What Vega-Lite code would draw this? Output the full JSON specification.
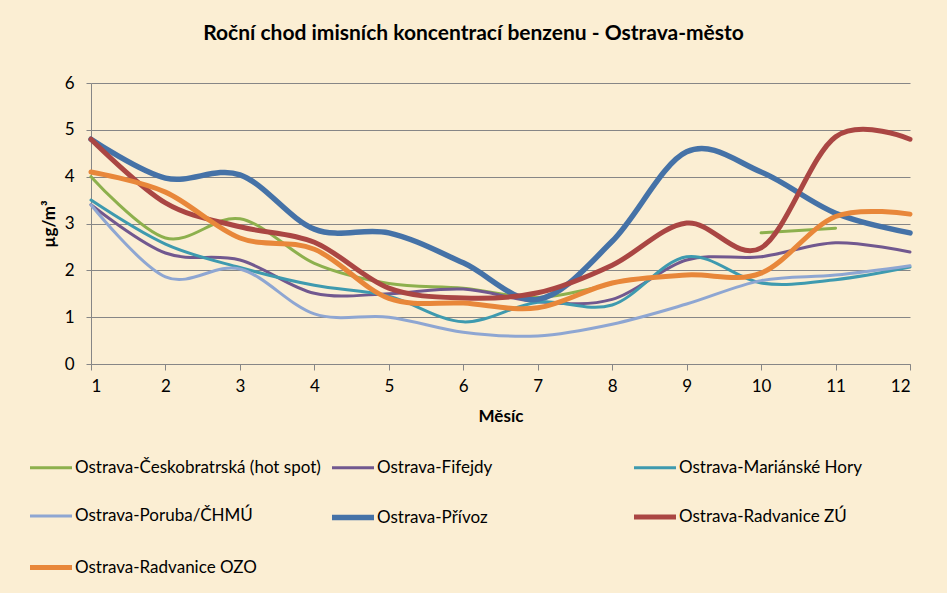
{
  "$schema": "https://vega.github.io/schema/vega-lite/v6.json",
  "autosize": "none",
  "width": 819,
  "height": 281,
  "padding": {"left": 91, "top": 83, "right": 37, "bottom": 229},
  "background": "#FBEED3",
  "title": {
    "text": "Roční chod imisních koncentrací benzenu - Ostrava-město",
    "font": "Lato",
    "fontSize": 21,
    "fontWeight": "bold",
    "color": "#000000",
    "anchor": "middle",
    "dx": -27,
    "offset": 30
  },
  "config": {
    "view": {"stroke": null},
    "font": "Lato"
  },
  "data": {
    "values": [
      {"s": "Ostrava-Českobratrská (hot spot)", "m": 1, "v": 4.0},
      {"s": "Ostrava-Českobratrská (hot spot)", "m": 2, "v": 2.69},
      {"s": "Ostrava-Českobratrská (hot spot)", "m": 3, "v": 3.1},
      {"s": "Ostrava-Českobratrská (hot spot)", "m": 4, "v": 2.15},
      {"s": "Ostrava-Českobratrská (hot spot)", "m": 5, "v": 1.72},
      {"s": "Ostrava-Českobratrská (hot spot)", "m": 6, "v": 1.62},
      {"s": "Ostrava-Českobratrská (hot spot)", "m": 7, "v": 1.42},
      {"s": "Ostrava-Českobratrská (hot spot)", "m": 8, "v": 1.72},
      {"s": "Ostrava-Českobratrská (hot spot)", "m": 9, "v": null},
      {"s": "Ostrava-Českobratrská (hot spot)", "m": 10, "v": 2.8},
      {"s": "Ostrava-Českobratrská (hot spot)", "m": 11, "v": 2.9},
      {"s": "Ostrava-Fifejdy", "m": 1, "v": 3.4},
      {"s": "Ostrava-Fifejdy", "m": 2, "v": 2.37},
      {"s": "Ostrava-Fifejdy", "m": 3, "v": 2.22},
      {"s": "Ostrava-Fifejdy", "m": 4, "v": 1.51},
      {"s": "Ostrava-Fifejdy", "m": 5, "v": 1.5},
      {"s": "Ostrava-Fifejdy", "m": 6, "v": 1.6},
      {"s": "Ostrava-Fifejdy", "m": 7, "v": 1.33},
      {"s": "Ostrava-Fifejdy", "m": 8, "v": 1.38},
      {"s": "Ostrava-Fifejdy", "m": 9, "v": 2.22},
      {"s": "Ostrava-Fifejdy", "m": 10, "v": 2.29},
      {"s": "Ostrava-Fifejdy", "m": 11, "v": 2.59},
      {"s": "Ostrava-Fifejdy", "m": 12, "v": 2.39},
      {"s": "Ostrava-Mariánské Hory", "m": 1, "v": 3.5},
      {"s": "Ostrava-Mariánské Hory", "m": 2, "v": 2.56},
      {"s": "Ostrava-Mariánské Hory", "m": 3, "v": 2.06},
      {"s": "Ostrava-Mariánské Hory", "m": 4, "v": 1.68},
      {"s": "Ostrava-Mariánské Hory", "m": 5, "v": 1.45},
      {"s": "Ostrava-Mariánské Hory", "m": 6, "v": 0.9},
      {"s": "Ostrava-Mariánské Hory", "m": 7, "v": 1.32},
      {"s": "Ostrava-Mariánské Hory", "m": 8, "v": 1.26},
      {"s": "Ostrava-Mariánské Hory", "m": 9, "v": 2.29},
      {"s": "Ostrava-Mariánské Hory", "m": 10, "v": 1.73},
      {"s": "Ostrava-Mariánské Hory", "m": 11, "v": 1.8},
      {"s": "Ostrava-Mariánské Hory", "m": 12, "v": 2.07},
      {"s": "Ostrava-Poruba/ČHMÚ", "m": 1, "v": 3.4},
      {"s": "Ostrava-Poruba/ČHMÚ", "m": 2, "v": 1.86},
      {"s": "Ostrava-Poruba/ČHMÚ", "m": 3, "v": 2.03},
      {"s": "Ostrava-Poruba/ČHMÚ", "m": 4, "v": 1.07},
      {"s": "Ostrava-Poruba/ČHMÚ", "m": 5, "v": 1.0},
      {"s": "Ostrava-Poruba/ČHMÚ", "m": 6, "v": 0.68},
      {"s": "Ostrava-Poruba/ČHMÚ", "m": 7, "v": 0.6},
      {"s": "Ostrava-Poruba/ČHMÚ", "m": 8, "v": 0.85},
      {"s": "Ostrava-Poruba/ČHMÚ", "m": 9, "v": 1.28},
      {"s": "Ostrava-Poruba/ČHMÚ", "m": 10, "v": 1.78},
      {"s": "Ostrava-Poruba/ČHMÚ", "m": 11, "v": 1.9},
      {"s": "Ostrava-Poruba/ČHMÚ", "m": 12, "v": 2.1},
      {"s": "Ostrava-Přívoz", "m": 1, "v": 4.8},
      {"s": "Ostrava-Přívoz", "m": 2, "v": 3.97},
      {"s": "Ostrava-Přívoz", "m": 3, "v": 4.04},
      {"s": "Ostrava-Přívoz", "m": 4, "v": 2.88},
      {"s": "Ostrava-Přívoz", "m": 5, "v": 2.8},
      {"s": "Ostrava-Přívoz", "m": 6, "v": 2.16},
      {"s": "Ostrava-Přívoz", "m": 7, "v": 1.38},
      {"s": "Ostrava-Přívoz", "m": 8, "v": 2.62},
      {"s": "Ostrava-Přívoz", "m": 9, "v": 4.53},
      {"s": "Ostrava-Přívoz", "m": 10, "v": 4.1},
      {"s": "Ostrava-Přívoz", "m": 11, "v": 3.22},
      {"s": "Ostrava-Přívoz", "m": 12, "v": 2.8},
      {"s": "Ostrava-Radvanice ZÚ", "m": 1, "v": 4.8},
      {"s": "Ostrava-Radvanice ZÚ", "m": 2, "v": 3.44},
      {"s": "Ostrava-Radvanice ZÚ", "m": 3, "v": 2.93},
      {"s": "Ostrava-Radvanice ZÚ", "m": 4, "v": 2.6},
      {"s": "Ostrava-Radvanice ZÚ", "m": 5, "v": 1.62},
      {"s": "Ostrava-Radvanice ZÚ", "m": 6, "v": 1.41},
      {"s": "Ostrava-Radvanice ZÚ", "m": 7, "v": 1.52},
      {"s": "Ostrava-Radvanice ZÚ", "m": 8, "v": 2.11},
      {"s": "Ostrava-Radvanice ZÚ", "m": 9, "v": 3.01},
      {"s": "Ostrava-Radvanice ZÚ", "m": 10, "v": 2.48},
      {"s": "Ostrava-Radvanice ZÚ", "m": 11, "v": 4.85},
      {"s": "Ostrava-Radvanice ZÚ", "m": 12, "v": 4.8},
      {"s": "Ostrava-Radvanice OZO", "m": 1, "v": 4.1},
      {"s": "Ostrava-Radvanice OZO", "m": 2, "v": 3.67},
      {"s": "Ostrava-Radvanice OZO", "m": 3, "v": 2.69},
      {"s": "Ostrava-Radvanice OZO", "m": 4, "v": 2.45},
      {"s": "Ostrava-Radvanice OZO", "m": 5, "v": 1.4},
      {"s": "Ostrava-Radvanice OZO", "m": 6, "v": 1.3},
      {"s": "Ostrava-Radvanice OZO", "m": 7, "v": 1.2},
      {"s": "Ostrava-Radvanice OZO", "m": 8, "v": 1.73},
      {"s": "Ostrava-Radvanice OZO", "m": 9, "v": 1.9},
      {"s": "Ostrava-Radvanice OZO", "m": 10, "v": 1.94},
      {"s": "Ostrava-Radvanice OZO", "m": 11, "v": 3.15},
      {"s": "Ostrava-Radvanice OZO", "m": 12, "v": 3.2}
    ]
  },
  "mark": {"type": "line", "interpolate": "cardinal", "invalid": "break-paths-show-domains", "strokeCap": "round"},
  "encoding": {
    "x": {
      "field": "m", "type": "quantitative",
      "scale": {"domain": [1, 12], "nice": false, "zero": false},
      "axis": {
        "title": "Měsíc",
        "values": [1,2,3,4,5,6,7,8,9,10,11,12],
        "format": "d",
        "grid": false,
        "domainColor": "#868686",
        "tickColor": "#868686",
        "tickSize": 6,
        "labelFontSize": 17,
        "labelColor": "#000000",
        "labelPadding": 8,
        "labelFont": "Lato",
        "titleFont": "Lato",
        "titleFontSize": 17,
        "titleFontWeight": "bold",
        "titleColor": "#000000",
        "titlePadding": 14
      }
    },
    "y": {
      "field": "v", "type": "quantitative",
      "scale": {"domain": [0, 6], "nice": false},
      "axis": {
        "title": "µg/m³",
        "values": [0,1,2,3,4,5,6],
        "grid": true,
        "gridColor": "#868686",
        "gridOpacity": 1,
        "domainColor": "#868686",
        "tickColor": "#868686",
        "tickSize": 5,
        "labelFontSize": 17,
        "labelColor": "#000000",
        "labelPadding": 12,
        "labelFont": "Lato",
        "titleFont": "Lato",
        "titleFontSize": 17,
        "titleFontWeight": "bold",
        "titleColor": "#000000",
        "titlePadding": 6
      }
    },
    "color": {
      "field": "s", "type": "nominal",
      "scale": {
        "domain": ["Ostrava-Českobratrská (hot spot)", "Ostrava-Fifejdy", "Ostrava-Mariánské Hory", "Ostrava-Poruba/ČHMÚ", "Ostrava-Přívoz", "Ostrava-Radvanice ZÚ", "Ostrava-Radvanice OZO"],
        "range": ["#8DB04D", "#71588F", "#3E9AAF", "#8EA6D2", "#4572A7", "#AA4643", "#E8873A"]
      },
      "legend": {
        "title": null,
        "orient": "none",
        "legendX": -64,
        "legendY": 360,
        "direction": "horizontal",
        "columns": 3,
        "gridAlign": "all",
        "columnPadding": 0,
        "rowPadding": 15.5,
        "symbolType": "stroke",
        "symbolSize": 1764,
        "labelFont": "Lato",
        "labelFontSize": 17,
        "labelColor": "#000000",
        "labelOffset": 0,
        "labelLimit": 400
      }
    },
    "strokeWidth": {
      "field": "s", "type": "nominal",
      "scale": {
        "type": "ordinal",
        "domain": ["Ostrava-Českobratrská (hot spot)", "Ostrava-Fifejdy", "Ostrava-Mariánské Hory", "Ostrava-Poruba/ČHMÚ", "Ostrava-Přívoz", "Ostrava-Radvanice ZÚ", "Ostrava-Radvanice OZO"],
        "range": [3, 3, 3, 3, 5.5, 5, 5]
      },
      "legend": null
    }
  }
}
